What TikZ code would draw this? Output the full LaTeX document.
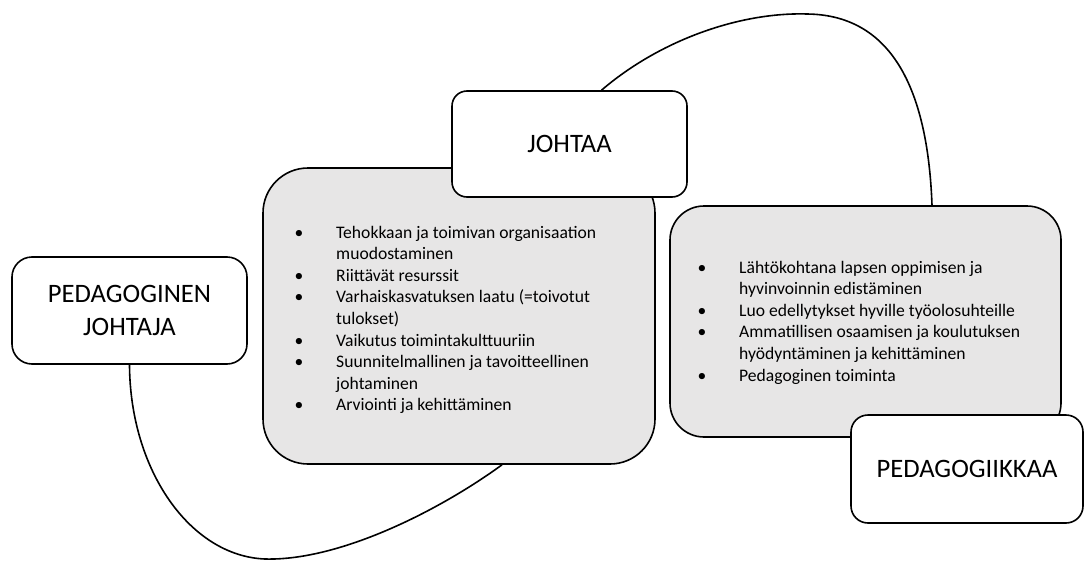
\documentclass[tikz,border=0pt]{standalone}
\usepackage{fontspec}
\setmainfont{Carlito}
\usetikzlibrary{calc,backgrounds}
\definecolor{boxgray}{HTML}{E7E6E6}
\begin{document}
\begin{tikzpicture}[x=1pt,y=-1pt,
  conn/.style={line width=1.6pt, black},
  titlebox/.style={draw, line width=1.6pt, fill=white, inner sep=0pt, align=center,
    font=\fontsize{26.6}{33}\selectfont},
  graybox/.style={draw, line width=1.6pt, fill=boxgray, inner sep=0pt},
  body/.style={font=\fontsize{17.6}{21.6}\selectfont, inner sep=0pt},
]
\useasboundingbox (0,0) rectangle (1084,562);

% gray content boxes
\node[graybox, rounded corners=45, minimum width=392, minimum height=296] (lbox) at (459,316) {};
\node[graybox, rounded corners=34, minimum width=391, minimum height=231] (rbox) at (865.5,321.5) {};

% title boxes
\node[titlebox, rounded corners=15, minimum width=235, minimum height=106] (johtaa) at (569.5,144) {JOHTAA};
\node[titlebox, rounded corners=20, minimum width=235, minimum height=107] (pj) at (129.5,310.5) {PEDAGOGINEN\\JOHTAJA};
\node[titlebox, rounded corners=17, minimum width=232, minimum height=108] (ped) at (967,469) {PEDAGOGIIKKAA};

% left list
\foreach \t/\yy [count=\i] in {
  {Tehokkaan ja toimivan organisaation}/238,
  {muodostaminen}/259.6,
  {Riittävät resurssit}/281.2,
  {Varhaiskasvatuksen laatu (=toivotut}/302.8,
  {tulokset)}/324.4,
  {Vaikutus toimintakulttuuriin}/346,
  {Suunnitelmallinen ja tavoitteellinen}/367.6,
  {johtaminen}/389.2,
  {Arviointi ja kehittäminen}/410.8}
  \node[body, anchor=base west] (lt\i) at (336,\yy) {\t};
\foreach \yy [count=\i] in {238,281.2,302.8,346,367.6,410.8}
  \node[body, anchor=base] (lb\i) at (299,\yy) {•};

% right list
\foreach \t/\yy [count=\i] in {
  {Lähtökohtana lapsen oppimisen ja}/273,
  {hyvinvoinnin edistäminen}/294.6,
  {Luo edellytykset hyville työolosuhteille}/316.2,
  {Ammatillisen osaamisen ja koulutuksen}/337.8,
  {hyödyntäminen ja kehittäminen}/359.4,
  {Pedagoginen toiminta}/381}
  \node[body, anchor=base west] (rt\i) at (739,\yy) {\t};
\foreach \yy [count=\i] in {273,316.2,337.8,381}
  \node[body, anchor=base] (rb\i) at (702,\yy) {•};

% connecting curves behind the boxes
\begin{pgfonlayer}{background}
\draw[conn] (pj.south) .. controls (130,470) and (190,556) .. (265,559)
  .. controls (340,561) and (440,510) .. ($(lbox.south)+(43,0)$);
\draw[conn] ($(johtaa.north)+(32,0)$) .. controls (660,40) and (740,12) .. (807,14)
  .. controls (895,15) and (928,95) .. ($(rbox.north)+(66.5,0)$);
\end{pgfonlayer}
\end{tikzpicture}
\end{document}
